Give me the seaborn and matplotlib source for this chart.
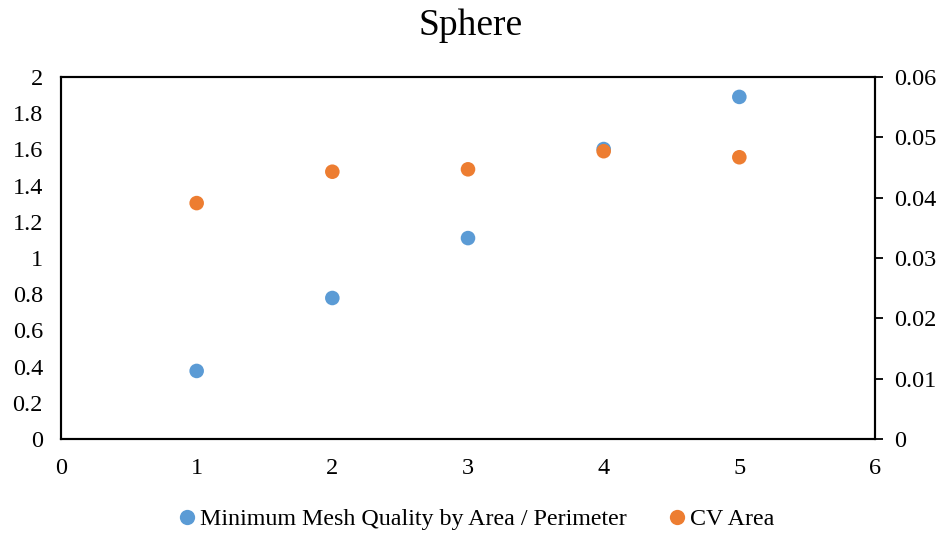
import matplotlib
matplotlib.use("Agg")
import matplotlib.pyplot as plt
import seaborn as sns
import pandas as pd
from matplotlib.lines import Line2D

# Data
x_vals = [1, 2, 3, 4, 5]
mesh_quality = [0.376, 0.779, 1.11, 1.602, 1.89]
cv_area = [0.0391, 0.0443, 0.0447, 0.0477, 0.0467]
left_ticks = [0, 0.2, 0.4, 0.6, 0.8, 1, 1.2, 1.4, 1.6, 1.8, 2]
right_ticks = [0, 0.01, 0.02, 0.03, 0.04, 0.05, 0.06]
x_ticks = [0, 1, 2, 3, 4, 5, 6]

BLUE = "#5B9BD5"
ORANGE = "#ED7D31"

sns.set_theme(style="white")
plt.rcParams["font.family"] = ["Liberation Serif", "DejaVu Serif"]
plt.rcParams["text.color"] = "black"

df = pd.DataFrame({"x": x_vals, "mesh": mesh_quality, "cv": cv_area})

fig = plt.figure(figsize=(9.41, 5.36), dpi=100)
ax = fig.add_axes([61 / 941, 1 - 439 / 536, (875 - 61) / 941, (439 - 77) / 536])
ax2 = ax.twinx()

sns.scatterplot(data=df, x="x", y="mesh", ax=ax, color=BLUE, s=110,
                edgecolor="none", zorder=3)
sns.scatterplot(data=df, x="x", y="cv", ax=ax2, color=ORANGE, s=110,
                edgecolor="none", zorder=3)

ax.set_xlim(0, 6)
ax.set_ylim(0, 2)
ax2.set_ylim(0, 0.06)
ax.set_xticks(x_ticks)
ax.set_xticklabels([str(t) for t in x_ticks])
ax.set_yticks(left_ticks)
ax.set_yticklabels(["0", "0.2", "0.4", "0.6", "0.8", "1", "1.2", "1.4", "1.6", "1.8", "2"])
ax2.set_yticks(right_ticks)
ax2.set_yticklabels(["0", "0.01", "0.02", "0.03", "0.04", "0.05", "0.06"])
ax.set_xlabel("")
ax.set_ylabel("")
ax2.set_ylabel("")

for a in (ax, ax2):
    for sp in a.spines.values():
        sp.set_visible(True)
        sp.set_color("black")
        sp.set_linewidth(1.5)

ax.tick_params(axis="y", which="both", length=0, labelsize=17.5,
               labelcolor="black", pad=13)
ax.tick_params(axis="x", which="both", length=0, labelsize=17.5,
               labelcolor="black", pad=14)
ax2.tick_params(axis="y", length=6, width=1.3, direction="out", labelsize=17.5,
                color="black", labelcolor="black", pad=8)

fig.text(0.5, 1 - 26 / 536, "Sphere", ha="center", va="center", fontsize=27)

handles = [
    Line2D([], [], marker="o", linestyle="none", markersize=11,
           markerfacecolor=BLUE, markeredgecolor="none",
           label="Minimum Mesh Quality by Area / Perimeter"),
    Line2D([], [], marker="o", linestyle="none", markersize=11,
           markerfacecolor=ORANGE, markeredgecolor="none", label="CV Area"),
]
fig.legend(handles=handles, loc="center", bbox_to_anchor=(0.5 + 4 / 941, 1 - 519 / 536),
           ncol=2, frameon=False, fontsize=17.3, handletextpad=0.05,
           columnspacing=1.6, handlelength=1.0)

fig.savefig("out.png", dpi=100)
